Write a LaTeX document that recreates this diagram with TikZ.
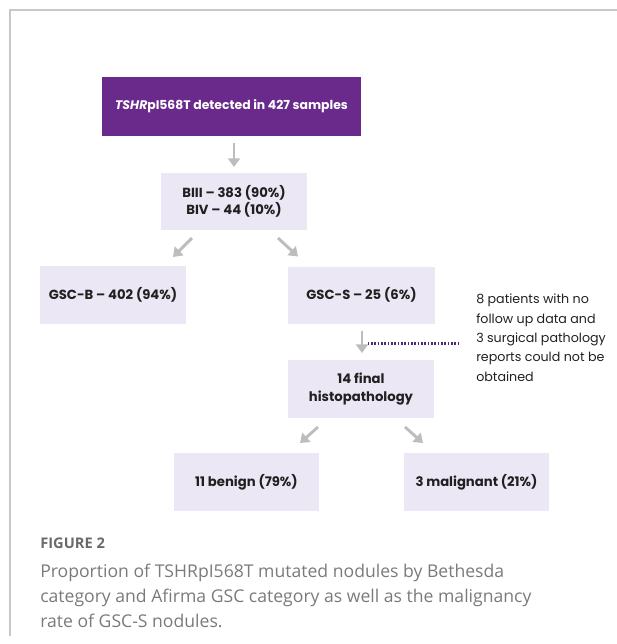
\documentclass[tikz,border=0pt]{standalone}
\usepackage{fontspec}
\setmainfont{Poppins}
\newfontfamily\capfont{Open Sans}
\usetikzlibrary{arrows.meta,calc}
\definecolor{toppurple}{HTML}{6A2A8C}
\definecolor{boxfill}{HTML}{ECE7F4}
\definecolor{arrgray}{HTML}{BDBDBD}
\definecolor{dotpurple}{HTML}{4B2A7B}
\definecolor{txt}{HTML}{231F20}
\definecolor{capgray}{HTML}{7A7A7A}
\definecolor{figgray}{HTML}{6A6A6A}
\definecolor{framegray}{HTML}{C8C8C8}
\begin{document}
\begin{tikzpicture}[x=0.75pt,y=-0.75pt,
  lbox/.style 2 args={fill=boxfill, text=txt, font=\bfseries\fontsize{9.9pt}{13.2pt}\selectfont,
    align=center, inner sep=0pt, outer sep=0pt, minimum width=#1*0.75pt, minimum height=#2*0.75pt},
  arr/.style={draw=arrgray, line width=2.2pt, -{Triangle[length=6.5pt,width=9pt]}},
  dotline/.style={draw=dotpurple, line width=1.6pt, dash pattern=on 1.3pt off 1.2pt},
  captxt/.style={text=capgray, font=\capfont\fontsize{13.2pt}{18pt}\selectfont, inner sep=0pt, anchor=base west}
]
\useasboundingbox (0,0) rectangle (617,644);
\draw[framegray, line width=1.1pt] (10,636) -- (10,10) -- (617,10);

\node[lbox={259}{59}, fill=toppurple, text=white, font=\bfseries\fontsize{9.3pt}{12pt}\selectfont] (top) at (231.5,106.5) {\textit{TSHR}pI568T detected in 427 samples};
\node[lbox={146}{57}] (biii) at (234,201.5) {BIII – 383 (90\%)\\BIV – 44 (10\%)};
\node[lbox={146}{58}] (gscb) at (113,295) {GSC-B – 402 (94\%)};
\node[lbox={147}{57}] (gscs) at (361.5,295) {GSC-S – 25 (6\%)};
\node[lbox={146}{58}] (final) at (361,389) {14 final\\histopathology};
\node[lbox={145}{58}] (benign) at (246.5,482) {11 benign (79\%)};
\node[lbox={145}{58}] (malig) at (476.5,482) {3 malignant (21\%)};

\node[anchor=north west, inner sep=0pt, text=txt, align=left,
  font=\fontsize{9.5pt}{14.5pt}\selectfont] (note) at (476,294)
  {8 patients with no\\follow up data and\\3 surgical pathology\\reports could not be\\obtained};

\draw[arr] (biii.north |- top.south) ++(0,7) -- ($(biii.north)+(0,-6)$);
\draw[arr] ($(biii.south)+(-42,8)$) -- ($(gscb.north)+(60,-9)$);
\draw[arr] ($(biii.south)+(44,8)$) -- ($(gscs.north)+(-63.5,-10)$);
\draw[arr] ($(gscs.south)+(0.5,7)$) -- ($(final.north)+(1,-7)$);
\draw[arr] ($(final.south)+(-43,9)$) -- ($(benign.north)+(53.5,-10)$);
\draw[arr] ($(final.south)+(44,9)$) -- ($(malig.north)+(-53.5,-10)$);

\coordinate (dotstart) at ($(gscs.south)+(6,20)$);
\draw[dotline] (dotstart) -- ($(dotstart -| note.west)+(-16,0)$);

\node[anchor=base west, inner sep=0pt, text=figgray, font=\capfont\bfseries\fontsize{11pt}{13pt}\selectfont] (fig) at (40,548) {FIGURE 2};
\node[captxt] (cap1) at (40,577) {Proportion of TSHRpI568T mutated nodules by Bethesda};
\node[captxt] (cap2) at (40,602) {category and Afirma GSC category as well as the malignancy};
\node[captxt] (cap3) at (40,627) {rate of GSC-S nodules.};
\end{tikzpicture}
\end{document}
